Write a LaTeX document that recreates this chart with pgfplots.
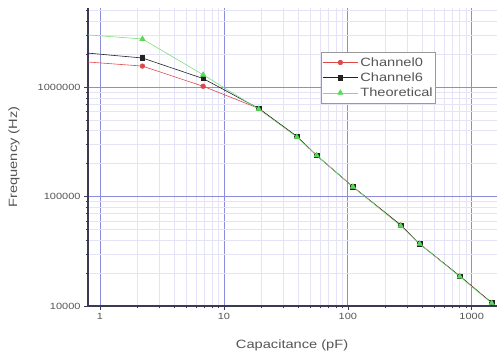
\documentclass[border=0pt]{standalone}
\usepackage{fontspec}
\setmainfont{Liberation Sans}[FakeStretch=1.22]
\usepackage{pgfplots}
\pgfplotsset{compat=1.18}
\definecolor{txt}{HTML}{555555}
\definecolor{majgrid}{HTML}{8C8CDC}
\definecolor{mingrid}{HTML}{E4E4F6}
\definecolor{axcol}{HTML}{3A3A55}
\definecolor{cred}{HTML}{E04848}
\definecolor{cblack}{HTML}{222222}
\definecolor{cgreen}{HTML}{7CE07C}
\definecolor{cgreenfill}{HTML}{5CD85C}
\begin{document}
\begin{tikzpicture}
\begin{axis}[
  scale only axis, width=409pt, height=298pt,
  xmode=log, ymode=log,
  xmin=0.8, xmax=1600, ymin=10000, ymax=5.3e6,
  axis x line=bottom, axis y line=left,
  axis line style={axcol, line width=1.3pt, -},
  xtick={1,10,100,1000}, xticklabels={1,10,100,1000},
  ytick={10000,100000,1000000}, yticklabels={10000,100000,1000000},
  minor xtick={2,3,4,5,6,7,8,9,20,30,40,50,60,70,80,90,200,300,400,500,600,700,800,900},
  minor ytick={20000,30000,40000,50000,60000,70000,80000,90000,200000,300000,400000,500000,600000,700000,800000,900000,2000000,3000000,4000000,5000000},
  tick align=outside, major tick length=4pt, minor tick length=2.5pt,
  tick style={axcol, line width=0.6pt},
  grid=both,
  major grid style={majgrid, line width=0.8pt},
  minor grid style={mingrid, line width=0.6pt},
  ticklabel style={font=\fontsize{9}{10}\selectfont, text=txt},
  xlabel={Capacitance (pF)}, ylabel={Frequency (Hz)},
  label style={font=\fontsize{12}{14}\selectfont, text=txt},
  every axis x label/.append style={at={(axis description cs:0.499,-0.131)}, anchor=center},
  every axis y label/.append style={at={(axis description cs:-0.181,0.5)}, anchor=center},
  clip marker paths=true,
  legend style={at={(axis description cs:0.57,0.852)}, anchor=north west,
    draw=gray!80, line width=0.6pt, fill=white, font=\fontsize{12}{14}\selectfont, text=txt,
    inner xsep=1pt, inner ysep=3pt, row sep=1pt},
  legend cell align=left,
  legend image code/.code={\draw[mark repeat=2,mark phase=2] plot coordinates {(0cm,0cm) (0.62cm,0cm) (1.24cm,0cm)};},
]
\addplot[cred, line width=0.6pt, mark=*, mark size=2.3pt, mark options={fill=cred, draw=cred}]
 coordinates {(0.5,1.77e6) (2.2,1.56e6) (6.8,1.02e6) (19.1,6.4e5) (38.8,3.55e5) (56,2.38e5) (110,1.23e5) (267,5.5e4) (380,3.7e4) (800,1.88e4) (1450,1.07e4)};
\addlegendentry{Channel0}
\addplot[cblack, line width=0.6pt, mark=square*, mark size=2.2pt, mark options={fill=cblack, draw=cblack}]
 coordinates {(0.5,2.15e6) (2.2,1.85e6) (6.8,1.2e6) (19.1,6.4e5) (38.8,3.55e5) (56,2.38e5) (110,1.23e5) (267,5.5e4) (380,3.7e4) (800,1.88e4) (1450,1.07e4)};
\addlegendentry{Channel6}
\addplot[cgreen, line width=0.6pt, mark=triangle*, mark size=3pt, mark options={fill=cgreenfill, draw=cgreenfill}]
 coordinates {(0.5,3.13e6) (2.2,2.76e6) (6.8,1.3e6) (19.1,6.3e5) (38.8,3.5e5) (56,2.38e5) (110,1.23e5) (267,5.4e4) (380,3.7e4) (800,1.86e4) (1450,1.06e4)};
\addlegendentry{Theoretical}
\end{axis}
\path ([xshift=-88pt,yshift=-50pt]current axis.south west) rectangle ([xshift=2pt,yshift=8pt]current axis.north east);
\end{tikzpicture}
\end{document}
